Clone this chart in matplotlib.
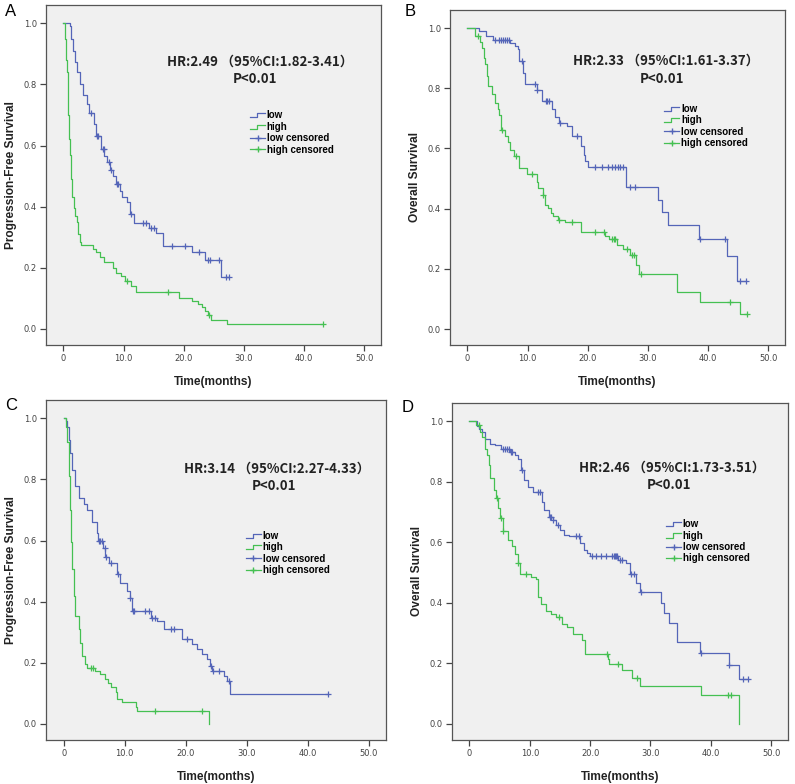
import numpy as np
import matplotlib
matplotlib.use('Agg')
import matplotlib.pyplot as plt
from matplotlib.lines import Line2D
from matplotlib.legend_handler import HandlerBase

# ---- data (time in months, survival) ----
# each curve: event times, survival after the event, censor times
A_low_t = [1.1, 1.3, 1.6, 1.9, 2.3, 2.8, 3.3, 3.9, 4.3, 5.0, 5.4, 6.3, 6.8, 7.2, 7.7, 8.3, 8.7, 9.4, 9.8,
           10.5, 11.0, 11.8, 14.3, 15.4, 16.5, 21.3, 23.6, 26.2]
A_low_s = [0.99, 0.95, 0.91, 0.875, 0.84, 0.80, 0.765, 0.735, 0.705, 0.67, 0.63, 0.59, 0.565, 0.545, 0.52,
           0.50, 0.475, 0.45, 0.43, 0.415, 0.375, 0.345, 0.33, 0.313, 0.272, 0.25, 0.225, 0.168]
A_low_c = [4.5, 5.6, 5.8, 6.5, 6.7, 7.5, 7.9, 8.9, 9.1, 11.3, 13.2, 13.8, 14.6, 15.0, 18.0, 20.2, 22.5,
           24.1, 24.4, 25.8, 27.0, 27.5]
A_high_t = [0.2, 0.4, 0.56, 0.7, 0.84, 1.0, 1.1, 1.3, 1.5, 1.7, 2.0, 2.2, 2.5, 2.8, 3.0, 4.9, 5.4, 6.0,
            6.8, 8.2, 8.7, 9.6, 10.3, 11.2, 12.0, 19.2, 21.3, 22.3, 23.0, 23.6, 24.0, 24.6, 27.2]
A_high_s = [0.95, 0.88, 0.84, 0.76, 0.70, 0.62, 0.57, 0.49, 0.43, 0.395, 0.37, 0.35, 0.31, 0.285, 0.275,
            0.262, 0.25, 0.235, 0.218, 0.2, 0.183, 0.172, 0.155, 0.14, 0.12, 0.10, 0.09, 0.08, 0.07,
            0.058, 0.045, 0.03, 0.015]
A_high_c = [10.6, 17.4, 24.2, 43.2]

B_low_t = [2.0, 3.1, 4.2, 7.0, 7.9, 8.4, 8.6, 9.2, 9.6, 11.5, 12.4, 14.0, 14.6, 15.3, 16.5, 17.4, 18.8,
           19.3, 19.6, 20.0, 26.4, 31.7, 32.3, 33.4, 38.5, 43.1, 44.8]
B_low_s = [0.99, 0.972, 0.96, 0.95, 0.94, 0.93, 0.89, 0.85, 0.815, 0.795, 0.757, 0.73, 0.705, 0.685, 0.675,
           0.64, 0.608, 0.578, 0.557, 0.537, 0.473, 0.43, 0.39, 0.345, 0.30, 0.243, 0.16]
B_low_c = [4.6, 5.2, 5.6, 5.9, 6.2, 6.5, 6.9, 9.0, 11.3, 11.6, 13.0, 13.3, 13.6, 15.4, 18.2, 21.2, 22.3,
           23.4, 24.1, 24.5, 25.0, 25.3, 25.9, 27.0, 27.9, 38.6, 42.9, 45.3, 46.3]
B_high_t = [1.2, 2.1, 2.4, 2.7, 3.0, 3.3, 3.5, 4.1, 4.6, 5.0, 5.2, 5.5, 6.3, 6.8, 7.1, 7.7, 8.5, 9.9, 11.5,
            11.8, 12.5, 12.9, 13.4, 13.9, 14.3, 15.1, 16.2, 18.8, 22.9, 23.5, 24.8, 25.9, 27.0, 28.1,
            28.6, 34.8, 38.7, 45.3]
B_high_s = [0.975, 0.955, 0.934, 0.90, 0.88, 0.84, 0.807, 0.78, 0.752, 0.73, 0.712, 0.662, 0.64, 0.623,
            0.595, 0.575, 0.534, 0.514, 0.49, 0.468, 0.446, 0.413, 0.402, 0.385, 0.374, 0.363, 0.357,
            0.324, 0.31, 0.298, 0.28, 0.265, 0.246, 0.213, 0.183, 0.124, 0.091, 0.049]
B_high_c = [1.8, 5.7, 8.0, 10.8, 12.6, 15.3, 17.4, 21.2, 22.7, 24.0, 24.3, 24.5, 26.5, 27.3, 27.7, 28.8,
            43.7, 46.4]

C_low_t = [0.3, 0.55, 0.83, 1.1, 1.4, 1.8, 2.5, 3.3, 3.8, 4.6, 5.5, 5.7, 6.5, 6.8, 7.5, 8.7, 9.3, 10.4,
           10.8, 11.2, 14.3, 15.3, 16.4, 19.4, 21.0, 21.8, 22.6, 23.4, 24.0, 24.3, 26.2, 26.8, 27.2]
C_low_s = [0.99, 0.97, 0.93, 0.885, 0.83, 0.78, 0.74, 0.72, 0.70, 0.66, 0.625, 0.60, 0.575, 0.545, 0.525,
           0.49, 0.462, 0.435, 0.413, 0.369, 0.345, 0.336, 0.309, 0.279, 0.26, 0.244, 0.227, 0.211,
           0.19, 0.172, 0.156, 0.14, 0.097]
C_low_c = [5.8, 6.0, 6.2, 6.7, 7.0, 7.8, 8.9, 10.9, 11.3, 11.5, 13.3, 13.9, 14.5, 15.0, 17.5, 18.0, 20.2,
           24.1, 24.4, 25.4, 27.0, 43.3]
C_high_t = [0.3, 0.55, 0.83, 1.1, 1.26, 1.37, 1.65, 1.9, 2.5, 2.7, 3.0, 3.45, 3.8, 5.2, 6.0, 6.7, 7.3,
            7.8, 8.5, 8.8, 9.6, 11.8, 12.0, 23.8]
C_high_s = [0.97, 0.922, 0.81, 0.70, 0.594, 0.506, 0.419, 0.353, 0.309, 0.266, 0.222, 0.195, 0.184,
            0.173, 0.162, 0.146, 0.135, 0.119, 0.103, 0.081, 0.07, 0.054, 0.043, 0.0]
C_high_c = [4.4, 4.8, 14.9, 22.7]

D_low_t = [1.3, 1.6, 2.1, 2.6, 3.4, 4.2, 5.3, 6.7, 7.5, 8.1, 8.6, 9.1, 9.7, 10.5, 12.1, 12.4, 13.2, 13.8,
           14.3, 15.0, 15.7, 16.5, 18.4, 18.9, 19.5, 20.0, 24.7, 26.0, 26.6, 27.6, 28.3, 31.7, 32.3,
           33.1, 34.4, 38.2, 43.0, 44.6]
D_low_s = [0.985, 0.975, 0.964, 0.942, 0.926, 0.92, 0.909, 0.898, 0.887, 0.876, 0.838, 0.805, 0.784,
           0.767, 0.734, 0.707, 0.685, 0.675, 0.658, 0.641, 0.625, 0.62, 0.598, 0.576, 0.565, 0.556,
           0.543, 0.532, 0.494, 0.467, 0.435, 0.40, 0.368, 0.335, 0.27, 0.235, 0.195, 0.15]
D_low_c = [5.6, 5.9, 6.2, 6.5, 6.8, 7.1, 8.7, 11.3, 11.7, 13.3, 13.5, 13.9, 14.7, 17.6, 18.1, 20.3, 20.9,
           21.8, 22.6, 23.6, 23.9, 24.1, 24.3, 24.5, 25.0, 25.3, 26.8, 27.2, 28.4, 38.3, 43.1, 45.4, 46.1]
D_high_t = [1.0, 1.8, 2.1, 2.6, 2.9, 3.2, 3.4, 4.0, 4.4, 4.8, 5.1, 5.6, 6.4, 7.0, 7.5, 8.1, 8.3, 10.2,
            11.0, 11.3, 11.9, 12.7, 13.5, 14.3, 15.4, 16.2, 17.1, 18.7, 19.2, 23.0, 23.2, 25.2, 26.9,
            28.2, 38.3, 44.7]
D_high_s = [0.986, 0.965, 0.948, 0.909, 0.887, 0.855, 0.811, 0.773, 0.745, 0.713, 0.68, 0.636, 0.609,
            0.587, 0.56, 0.533, 0.495, 0.484, 0.478, 0.418, 0.396, 0.374, 0.363, 0.352, 0.33, 0.32,
            0.298, 0.276, 0.232, 0.215, 0.199, 0.177, 0.152, 0.125, 0.094, 0.0]
D_high_c = [1.5, 4.5, 5.2, 5.6, 8.1, 9.4, 14.8, 22.8, 24.6, 27.7, 42.9, 43.3]

hr_text = ['HR:2.49 \uff0895%CI:1.82-3.41\uff09', 'HR:2.33 \uff0895%CI:1.61-3.37\uff09',
           'HR:3.14 \uff0895%CI:2.27-4.33\uff09', 'HR:2.46 \uff0895%CI:1.73-3.51\uff09']
ylabels = ['Progression-Free Survival', 'Overall Survival', 'Progression-Free Survival', 'Overall Survival']
letters = ['A', 'B', 'C', 'D']
xticks = [0, 10, 20, 30, 40, 50]
xticklabels = ['0', '10.0', '20.0', '30.0', '40.0', '50.0']
yticks = [0.0, 0.2, 0.4, 0.6, 0.8, 1.0]
yticklabels = ['0.0', '0.2', '0.4', '0.6', '0.8', '1.0']

BLUE = '#5465b8'
GREEN = '#45c052'
W, H = 795, 784


class HandlerStep(HandlerBase):
    # little step shaped sample like SPSS draws
    def create_artists(self, legend, orig_handle, xdescent, ydescent, width, height, fontsize, trans):
        x0 = -xdescent
        y0 = -ydescent
        xs = [x0, x0 + width * 0.45, x0 + width * 0.45, x0 + width]
        ys = [y0 + height * 0.15, y0 + height * 0.15, y0 + height * 0.75, y0 + height * 0.75]
        ln = Line2D(xs, ys, color=orig_handle.get_color(), lw=0.9, transform=trans)
        return [ln]


def km(ax, t, s, c, color, end_at_last=False):
    x = np.array([0.0] + list(t))
    y = np.array([1.0] + list(s))
    if not end_at_last:
        x = np.append(x, max(c[-1], x[-1]))
        y = np.append(y, y[-1])
    ax.step(x, y, where='post', color=color, lw=0.9)
    c = np.array(c)
    idx = np.searchsorted(x, c, side='right') - 1
    ax.plot(c, y[idx], ls='none', marker='+', ms=4.5, mew=0.9, color=color)


panels = [
    (A_low_t, A_low_s, A_low_c, A_high_t, A_high_s, A_high_c, False),
    (B_low_t, B_low_s, B_low_c, B_high_t, B_high_s, B_high_c, False),
    (C_low_t, C_low_s, C_low_c, C_high_t, C_high_s, C_high_c, True),
    (D_low_t, D_low_s, D_low_c, D_high_t, D_high_s, D_high_c, True),
]
# pixel boxes (left, top, right, bottom) of the four plot frames
boxes = [(46, 5, 381, 345), (450, 10, 785, 345), (46, 400, 386, 740), (452, 403, 788, 740)]
hr_pos = [(0.361, 0.832, 0.558, 0.782), (0.366, 0.848, 0.567, 0.794),
          (0.407, 0.797, 0.605, 0.748), (0.379, 0.808, 0.579, 0.757)]
leg_pos = [(0.594, 0.705), (0.624, 0.735), (0.573, 0.63), (0.622, 0.67)]
letter_pos = [(5, 12), (405, 12), (5, 405), (402, 408)]

fig = plt.figure(figsize=(W / 100, H / 100), dpi=100)
fig.patch.set_facecolor('white')

for i, (lt, ls_, lc, ht, hs, hc, high_drop) in enumerate(panels):
    l, t, r, b = boxes[i]
    ax = fig.add_axes([l / W, 1 - b / H, (r - l) / W, (b - t) / H])
    ax.set_facecolor('#f0f0f0')
    km(ax, lt, ls_, lc, BLUE)
    km(ax, ht, hs, hc, GREEN, end_at_last=high_drop)
    ax.set_xlim(-2.9, 52.8)
    ax.set_ylim(-0.053, 1.06)
    ax.set_xticks(xticks)
    ax.set_xticklabels(xticklabels)
    ax.set_yticks(yticks)
    ax.set_yticklabels(yticklabels)
    ax.tick_params(direction='out', length=4.5, width=0.9, colors='#444444', labelsize=6, pad=2)
    for sp in ax.spines.values():
        sp.set_color('#555555')
        sp.set_linewidth(0.9)
    ax.set_xlabel('Time(months)', fontsize=8.6, fontweight='bold', family='Liberation Sans', color='#222222')
    ax.set_ylabel(ylabels[i], fontsize=8.6, fontweight='bold', family='Liberation Sans', color='#222222')
    ax.xaxis.set_label_coords(0.5, -31 / (b - t))
    ax.yaxis.set_label_coords(-29 / (r - l), 0.5)

    hx, hy, px, py = hr_pos[i]
    ax.text(hx, hy, hr_text[i], transform=ax.transAxes, ha='left', va='center', fontsize=9.5,
            fontweight='bold', family=['Noto Sans CJK SC', 'DejaVu Sans'], color='#222222')
    ax.text(px, py, 'P<0.01', transform=ax.transAxes, ha='left', va='center', fontsize=9.5,
            fontweight='bold', family=['Noto Sans CJK SC', 'DejaVu Sans'], color='#222222')

    h_low = Line2D([], [], color=BLUE)
    h_high = Line2D([], [], color=GREEN)
    h_lc = Line2D([], [], color=BLUE, marker='+', ms=4.5, lw=0.9)
    h_hc = Line2D([], [], color=GREEN, marker='+', ms=4.5, lw=0.9)
    ax.legend([h_low, h_high, h_lc, h_hc], ['low', 'high', 'low censored', 'high censored'],
              loc='upper left', bbox_to_anchor=leg_pos[i], frameon=False, borderpad=0,
              handlelength=1.6, handletextpad=0.15, labelspacing=0.15, numpoints=1,
              prop={'family': 'Liberation Sans', 'weight': 'bold', 'size': 7},
              handler_map={h_low: HandlerStep(), h_high: HandlerStep()})

    lx, ly = letter_pos[i]
    fig.text(lx / W, 1 - ly / H, letters[i], fontsize=12, ha='left', va='center', family='Liberation Sans')

fig.savefig('out.png', dpi=100, facecolor='white')
